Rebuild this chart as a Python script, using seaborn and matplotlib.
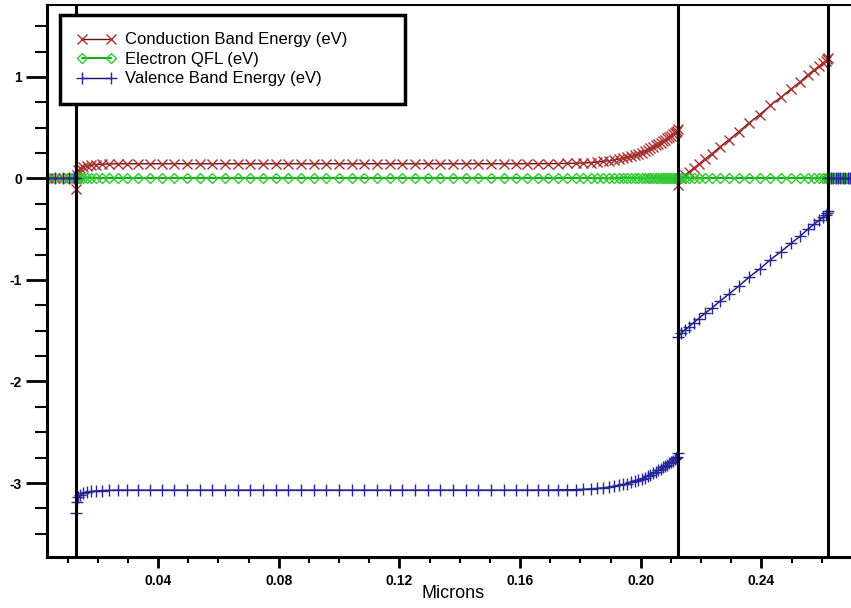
import matplotlib
matplotlib.use('Agg')
import matplotlib.pyplot as plt
from matplotlib.lines import Line2D
from matplotlib.ticker import MultipleLocator, FormatStrFormatter
import pandas as pd
import seaborn as sns

# mesh positions in microns (contact | layer 1 | layer 2 | contact)
x_um = [
    0.0035, 0.0060, 0.0085, 0.0105, 0.0120, 0.0128,
    0.0128, 0.0131, 0.0136, 0.0143, 0.0152, 0.0163, 0.0177, 0.0194, 0.0214, 0.0238,
    0.0266, 0.0298, 0.0334, 0.0372, 0.0412, 0.0454, 0.0496, 0.0538, 0.0580, 0.0622,
    0.0664, 0.0706, 0.0748, 0.0790, 0.0832, 0.0874, 0.0916, 0.0958, 0.1000, 0.1042,
    0.1084, 0.1126, 0.1168, 0.1210, 0.1252, 0.1294, 0.1336, 0.1378, 0.1420, 0.1462,
    0.1504, 0.1546, 0.1586, 0.1624, 0.1660, 0.1694, 0.1726, 0.1756, 0.1784, 0.1810,
    0.1834, 0.1856, 0.1876, 0.1894, 0.1911, 0.1927, 0.1942, 0.1956, 0.1969, 0.1981,
    0.1992, 0.2003, 0.2013, 0.2023, 0.2032, 0.2041, 0.2050, 0.2058, 0.2066, 0.2074,
    0.2081, 0.2088, 0.2095, 0.2101, 0.2107, 0.2112, 0.2117, 0.2121, 0.2125,
    0.2125, 0.2135, 0.2147, 0.2160, 0.2175, 0.2192, 0.2212, 0.2235, 0.2262, 0.2292,
    0.2325, 0.2360, 0.2395, 0.2430, 0.2465, 0.2498, 0.2528, 0.2554, 0.2575, 0.2592,
    0.2605, 0.2614, 0.2619, 0.2622,
    0.2622, 0.2630, 0.2638, 0.2646, 0.2654, 0.2662, 0.2670, 0.2678, 0.2686, 0.2694,
]

# conduction band energy (eV)
ec = [
    0.0, 0.0, 0.0, 0.0, 0.0, 0.0,
    -0.10, 0.03, 0.08, 0.10, 0.115, 0.125, 0.132, 0.137, 0.141, 0.143,
    0.145, 0.145, 0.145, 0.145, 0.145, 0.145, 0.145, 0.145, 0.145, 0.145,
    0.145, 0.145, 0.145, 0.145, 0.145, 0.145, 0.145, 0.145, 0.145, 0.145,
    0.145, 0.145, 0.145, 0.145, 0.145, 0.145, 0.145, 0.145, 0.145, 0.145,
    0.145, 0.145, 0.145, 0.145, 0.146, 0.146, 0.147, 0.148, 0.150, 0.153,
    0.157, 0.162, 0.168, 0.175, 0.183, 0.192, 0.201, 0.210, 0.220, 0.231,
    0.242, 0.255, 0.268, 0.282, 0.296, 0.311, 0.326, 0.340, 0.354, 0.368,
    0.382, 0.396, 0.410, 0.423, 0.436, 0.448, 0.459, 0.470, 0.485,
    -0.06, 0.004, 0.033, 0.064, 0.10, 0.14, 0.19, 0.24, 0.31, 0.38,
    0.46, 0.55, 0.63, 0.72, 0.80, 0.88, 0.95, 1.02, 1.07, 1.11,
    1.14, 1.16, 1.18, 1.19,
    0.0, 0.0, 0.0, 0.0, 0.0, 0.0, 0.0, 0.0, 0.0, 0.0,
]

# electron quasi-Fermi level (eV)
efn = [
    0.0, 0.0, 0.0, 0.0, 0.0, 0.0,
    0.0, 0.0, 0.0, 0.0, 0.0, 0.0, 0.0, 0.0, 0.0, 0.0,
    0.0, 0.0, 0.0, 0.0, 0.0, 0.0, 0.0, 0.0, 0.0, 0.0,
    0.0, 0.0, 0.0, 0.0, 0.0, 0.0, 0.0, 0.0, 0.0, 0.0,
    0.0, 0.0, 0.0, 0.0, 0.0, 0.0, 0.0, 0.0, 0.0, 0.0,
    0.0, 0.0, 0.0, 0.0, 0.0, 0.0, 0.0, 0.0, 0.0, 0.0,
    0.0, 0.0, 0.0, 0.0, 0.0, 0.0, 0.0, 0.0, 0.0, 0.0,
    0.0, 0.0, 0.0, 0.0, 0.0, 0.0, 0.0, 0.0, 0.0, 0.0,
    0.0, 0.0, 0.0, 0.0, 0.0, 0.0, 0.0, 0.0, 0.0,
    0.0, 0.0, 0.0, 0.0, 0.0, 0.0, 0.0, 0.0, 0.0, 0.0,
    0.0, 0.0, 0.0, 0.0, 0.0, 0.0, 0.0, 0.0, 0.0, 0.0,
    0.0, 0.0, 0.0, 0.0,
    0.0, 0.0, 0.0, 0.0, 0.0, 0.0, 0.0, 0.0, 0.0, 0.0,
]

# valence band energy (eV)
ev = [
    0.0, 0.0, 0.0, 0.0, 0.0, 0.0,
    -3.30, -3.19, -3.14, -3.12, -3.10, -3.09, -3.083, -3.078, -3.074, -3.072,
    -3.07, -3.07, -3.07, -3.07, -3.07, -3.07, -3.07, -3.07, -3.07, -3.07,
    -3.07, -3.07, -3.07, -3.07, -3.07, -3.07, -3.07, -3.07, -3.07, -3.07,
    -3.07, -3.07, -3.07, -3.07, -3.07, -3.07, -3.07, -3.07, -3.07, -3.07,
    -3.07, -3.07, -3.07, -3.07, -3.069, -3.069, -3.068, -3.067, -3.065, -3.062,
    -3.058, -3.053, -3.047, -3.040, -3.032, -3.023, -3.014, -3.005, -2.995, -2.984,
    -2.973, -2.960, -2.947, -2.933, -2.919, -2.904, -2.889, -2.875, -2.861, -2.847,
    -2.833, -2.819, -2.805, -2.792, -2.779, -2.767, -2.756, -2.745, -2.700,
    -1.56, -1.52, -1.49, -1.46, -1.42, -1.38, -1.33, -1.28, -1.21, -1.14,
    -1.06, -0.97, -0.89, -0.80, -0.72, -0.64, -0.57, -0.50, -0.45, -0.41,
    -0.38, -0.36, -0.34, -0.32,
    0.0, 0.0, 0.0, 0.0, 0.0, 0.0, 0.0, 0.0, 0.0, 0.0,
]

# material interfaces (microns)
interfaces = [0.0128, 0.2125, 0.2622]

series = ['ec', 'efn', 'ev']
labels = ['Conduction Band Energy (eV)', 'Electron QFL (eV)', 'Valence Band Energy (eV)']
line_colors = ['#5e1212', '#10b010', '#121260']
marker_colors = ['#a83030', '#30c830', '#26269a']
markers = ['x', 'D', '+']
marker_sizes = [7, 5.5, 8]
line_widths = [1, 1.5, 1]

df = pd.DataFrame({'x': x_um, 'ec': ec, 'efn': efn, 'ev': ev})

sns.set_style('ticks', {'axes.edgecolor': 'black', 'xtick.color': 'black',
                        'ytick.color': 'black', 'text.color': 'black',
                        'axes.labelcolor': 'black'})
plt.rcParams['font.family'] = ['Liberation Sans', 'DejaVu Sans']
plt.rcParams['axes.unicode_minus'] = False

fig = plt.figure(figsize=(8.51, 6.08), dpi=100)
ax = fig.add_axes([47 / 851, 51 / 608, 1 - 47 / 851, 552 / 608])

handles = []
for col, c, mc, m, ms, lw in zip(series, line_colors, marker_colors, markers,
                                 marker_sizes, line_widths):
    sns.lineplot(data=df, x='x', y=col, estimator=None, sort=False, ax=ax,
                 color=c, lw=lw, marker=m, markersize=ms, markeredgecolor=mc,
                 markeredgewidth=1, markerfacecolor='none')
    handles.append(Line2D([], [], color=c, lw=lw, marker=m, markersize=ms,
                          markeredgecolor=mc, markeredgewidth=1,
                          markerfacecolor='none'))

for xv in interfaces:
    ax.axvline(xv, color='black', lw=2.2, zorder=5)

ax.set_xlim(0.0032, 0.2697)
ax.set_ylim(-3.729, 1.709)

ax.xaxis.set_major_locator(MultipleLocator(0.04))
ax.xaxis.set_minor_locator(MultipleLocator(0.01))
ax.xaxis.set_major_formatter(FormatStrFormatter('%.2f'))
ax.yaxis.set_major_locator(MultipleLocator(1))
ax.yaxis.set_minor_locator(MultipleLocator(0.25))
ax.yaxis.set_major_formatter(FormatStrFormatter('%d'))

ax.tick_params(axis='y', which='major', length=15, width=2, labelsize=10, pad=3)
ax.tick_params(axis='y', which='minor', length=8.5, width=1.5)
ax.tick_params(axis='x', which='major', length=8, width=2, labelsize=10, pad=4)
ax.tick_params(axis='x', which='minor', length=4.5, width=1.5)
plt.setp(ax.get_xticklabels() + ax.get_yticklabels(), fontweight='bold')

for side in ['left', 'bottom']:
    ax.spines[side].set_linewidth(2.2)
ax.spines['top'].set_linewidth(1.5)
ax.spines['right'].set_visible(False)

ax.set_ylabel('')
ax.set_xlabel('Microns', fontsize=13)
ax.xaxis.set_label_coords(0.505, -0.05)

leg = ax.legend(handles, labels, loc='upper left',
                bbox_to_anchor=(0.016, 0.5, 0.429, 0.482), mode='expand',
                borderaxespad=0, numpoints=2, handlelength=2.3,
                handletextpad=0.55, fontsize=12, labelspacing=0.27,
                borderpad=1.05, frameon=True, fancybox=False,
                edgecolor='black', framealpha=1)
leg.get_frame().set_linewidth(2.5)

fig.savefig('out.png', dpi=100)
